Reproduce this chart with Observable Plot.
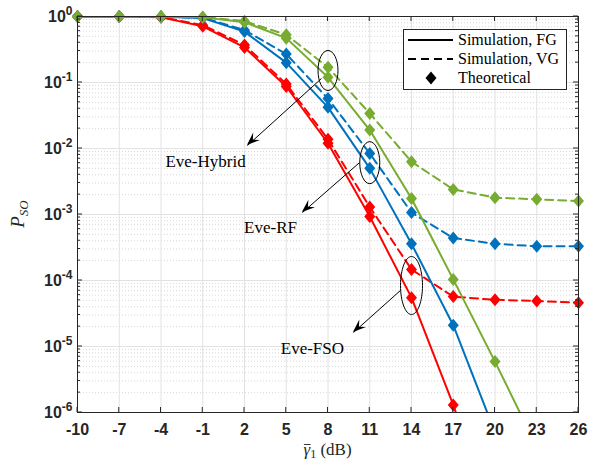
<!DOCTYPE html>
<html><head><meta charset="utf-8">
<script src="https://cdn.jsdelivr.net/npm/d3@7"></script>
<script src="https://cdn.jsdelivr.net/npm/@observablehq/plot@0.6"></script>
<style>body{margin:0;background:#fff}</style>
</head><body><div id="chart"></div>
<script>
// ---- data ----
const snr = [-10, -7, -4, -1, 2, 5, 8, 11, 14, 17, 20, 23, 26];
const xTicks = [-10, -7, -4, -1, 2, 5, 8, 11, 14, 17, 20, 23, 26];
const yTicks = [1e-6, 1e-5, 1e-4, 1e-3, 1e-2, 1e-1, 1];

const fsoFG    = [1.0, 1.0, 0.97, 0.71, 0.34, 0.087, 0.012, 9.3e-4, 5.5e-5, 1.3e-6, 2e-8, null, null];
const fsoVG    = [1.0, 1.0, 0.98, 0.74, 0.37, 0.095, 0.0138, 1.3e-3, 1.47e-4, 5.7e-5, 5.1e-5, 4.9e-5, 4.6e-5];
const rfFG     = [1.0, 1.0, 0.99, 0.95, 0.59, 0.20, 0.042, 5.0e-3, 3.6e-4, 2.1e-5, 5e-7, null, null];
const rfVG     = [1.0, 1.0, 0.99, 0.96, 0.62, 0.27, 0.057, 8.4e-3, 1.07e-3, 4.4e-4, 3.6e-4, 3.3e-4, 3.3e-4];
const hybridFG = [1.0, 1.0, 1.0, 0.97, 0.82, 0.47, 0.12, 0.019, 1.75e-3, 1.04e-4, 5.9e-6, 3e-7, null];
const hybridVG = [1.0, 1.0, 1.0, 0.98, 0.85, 0.53, 0.17, 0.034, 6.3e-3, 2.4e-3, 1.8e-3, 1.7e-3, 1.6e-3];

const eveNames  = ["Eve-FSO", "Eve-RF", "Eve-Hybrid"];
const eveColors = ["#FF0000", "#0072BD", "#77AC30"];
const eveFG = [fsoFG, rfFG, hybridFG];
const eveVG = [fsoVG, rfVG, hybridVG];

// annotations (data coordinates)
const annotText = ["Eve-Hybrid", "Eve-RF", "Eve-FSO"];
const annotX = [-0.8, 3.87, 6.88];
const annotY = [6.35e-3, 6.35e-4, 9.3e-6];
const ringX = [8, 11, 14];
const ringY = [0.152, 6.1e-3, 8.4e-5];
const arrowX1 = [7.53, 10.26, 13.2];
const arrowY1 = [0.115, 6.1e-3, 7.05e-5];
const arrowX2 = [2.21, 6.16, 9.83];
const arrowY2 = [0.0111, 1.07e-3, 1.63e-5];

// ---- build tables ----
function rowsOf(arr, k) {
  const out = [];
  arr.forEach((v, i) => { if (v != null) out.push({x: snr[i], y: v, color: eveColors[k]}); });
  return out;
}
const diamond = {draw(ctx) { ctx.moveTo(0, -6.5); ctx.lineTo(5.5, 0); ctx.lineTo(0, 6.5); ctx.lineTo(-5.5, 0); ctx.closePath(); }};
function ellipseSymbol(rx, ry) {
  const k = 0.5523;
  return {draw(ctx) {
    ctx.moveTo(rx, 0);
    ctx.bezierCurveTo(rx, ry * k, rx * k, ry, 0, ry);
    ctx.bezierCurveTo(-rx * k, ry, -rx, ry * k, -rx, 0);
    ctx.bezierCurveTo(-rx, -ry * k, -rx * k, -ry, 0, -ry);
    ctx.bezierCurveTo(rx * k, -ry, rx, -ry * k, rx, 0);
    ctx.closePath();
  }};
}
const ringSizes = [[10, 20], [10, 21], [11, 29]];

const minorY = [];
for (let e = -6; e < 0; e++) for (let m = 2; m <= 9; m++) minorY.push(m * Math.pow(10, e));

const marks = [
  Plot.ruleY(minorY, {stroke: "#cdcdcd", strokeDasharray: "1,2", strokeWidth: 0.8}),
  Plot.ruleX(xTicks, {stroke: "#e2e2e2", strokeWidth: 1}),
  Plot.ruleY(yTicks, {stroke: "#e2e2e2", strokeWidth: 1}),
];
for (let k = 0; k < 3; k++) {
  const fg = rowsOf(eveFG[k], k), vg = rowsOf(eveVG[k], k);
  marks.push(Plot.line(fg, {x: "x", y: "y", stroke: "color", strokeWidth: 2, clip: true}));
  marks.push(Plot.line(vg, {x: "x", y: "y", stroke: "color", strokeWidth: 2, strokeDasharray: "8,5", clip: true}));
  const pts = fg.concat(vg).filter(d => d.y >= 1e-6);
  marks.push(Plot.dot(pts, {x: "x", y: "y", fill: "color", stroke: "none", symbol: diamond}));
}
ringX.forEach((x, i) => {
  marks.push(Plot.dot([{x, y: ringY[i]}], {x: "x", y: "y", symbol: ellipseSymbol(...ringSizes[i]), fill: "none", stroke: "black", strokeWidth: 1}));
});
const arrows = arrowX1.map((x1, i) => ({x1, y1: arrowY1[i], x2: arrowX2[i], y2: arrowY2[i]}));
marks.push(Plot.link(arrows, {x1: "x1", y1: "y1", x2: "x2", y2: "y2", stroke: "black", strokeWidth: 1}));
const annots = annotText.map((t, i) => ({t, x: annotX[i], y: annotY[i]}));
marks.push(Plot.text(annots, {x: "x", y: "y", text: "t", fontFamily: "Liberation Serif, Times New Roman, serif", fontSize: 17, fontWeight: "normal", fill: "black", ariaLabel: "annotation"}));
marks.push(Plot.frame({stroke: "#262626", strokeWidth: 1}));

const plot = Plot.plot({
  width: 597, height: 465,
  marginLeft: 77, marginRight: 19, marginTop: 16, marginBottom: 53,
  style: {fontFamily: "Liberation Sans, Arial, sans-serif", fontSize: "16px", fontWeight: "bold", color: "#262626", background: "white", overflow: "visible"},
  x: {domain: [-10, 26], ticks: xTicks, tickFormat: d => String(d), tickSize: 0, tickPadding: 11, label: null},
  y: {type: "log", domain: [1e-6, 1], ticks: yTicks, tickFormat: d => "10^" + Math.round(Math.log10(d)), tickSize: 0, tickPadding: 5, label: null},
  color: {type: "identity"},
  marks
});
document.getElementById("chart").append(plot);

// ---- post-processing: superscripts, inward ticks, labels, legend, arrowheads ----
const svgEl = plot.tagName.toLowerCase() === "svg" ? plot : plot.querySelector("svg");
const root = d3.select(svgEl);
const sx = plot.scale("x"), sy = plot.scale("y");
const X = d3.scaleLinear(sx.domain, sx.range);
const Y = d3.scaleLog(sy.domain, sy.range);
const pLeft = Math.min(...sx.range), pRight = Math.max(...sx.range);
const pTop = Math.min(...sy.range), pBottom = Math.max(...sy.range);

root.selectAll("text").each(function () {
  const m = /^10\^(.+)$/.exec(this.textContent);
  if (m) {
    this.textContent = "10";
    const ts = document.createElementNS("http://www.w3.org/2000/svg", "tspan");
    ts.setAttribute("dy", "-7"); ts.setAttribute("font-size", "12"); ts.textContent = m[1];
    this.appendChild(ts);
  }
});

// white boxes behind annotations
root.selectAll('[aria-label="annotation"] text').each(function () {
  const b = this.getBBox();
  const r = document.createElementNS("http://www.w3.org/2000/svg", "rect");
  r.setAttribute("x", b.x - 8); r.setAttribute("y", b.y - 4);
  r.setAttribute("width", b.width + 16); r.setAttribute("height", b.height + 8);
  r.setAttribute("fill", "white");
  this.parentNode.insertBefore(r, this);
});

// inward ticks
const tk = root.append("g").attr("stroke", "#262626").attr("stroke-width", 1);
xTicks.forEach(v => {
  const x = X(v);
  tk.append("line").attr("x1", x).attr("x2", x).attr("y1", pBottom).attr("y2", pBottom - 5);
  tk.append("line").attr("x1", x).attr("x2", x).attr("y1", pTop).attr("y2", pTop + 5);
});
yTicks.forEach(v => {
  const y = Y(v);
  tk.append("line").attr("x1", pLeft).attr("x2", pLeft + 5).attr("y1", y).attr("y2", y);
  tk.append("line").attr("x1", pRight).attr("x2", pRight - 5).attr("y1", y).attr("y2", y);
});
minorY.forEach(v => {
  const y = Y(v);
  tk.append("line").attr("x1", pLeft).attr("x2", pLeft + 3).attr("y1", y).attr("y2", y);
  tk.append("line").attr("x1", pRight).attr("x2", pRight - 3).attr("y1", y).attr("y2", y);
});

// arrowheads (filled, concave back)
const ah = root.append("g").attr("fill", "black");
arrows.forEach(a => {
  const x1 = X(a.x1), y1 = Y(a.y1), x2 = X(a.x2), y2 = Y(a.y2);
  const ang = Math.atan2(y2 - y1, x2 - x1);
  const len = 13, half = 5, notch = 8;
  const ux = Math.cos(ang), uy = Math.sin(ang), px = -uy, py = ux;
  const bx = x2 - ux * len, by = y2 - uy * len;
  const nx = x2 - ux * notch, ny = y2 - uy * notch;
  ah.append("path").attr("d", `M${x2},${y2}L${bx + px * half},${by + py * half}L${nx},${ny}L${bx - px * half},${by - py * half}Z`);
});

// axis labels
const serif = "Liberation Serif, Times New Roman, serif";
const cx = (pLeft + pRight) / 2;
const xl = root.append("text").attr("x", cx).attr("y", 455).attr("text-anchor", "middle")
  .attr("font-family", serif).attr("font-size", 17).attr("font-weight", "normal").attr("fill", "#262626");
const g1 = xl.append("tspan").attr("font-style", "italic").text("γ");
xl.append("tspan").attr("font-size", 12).attr("dy", 3).text("1");
xl.append("tspan").attr("dy", -3).text(" (dB)");
try {
  const ext = g1.node().getExtentOfChar(0);
  root.append("line").attr("x1", ext.x + 0.5).attr("x2", ext.x + ext.width + 0.5)
    .attr("y1", 444.5).attr("y2", 444.5).attr("stroke", "#262626").attr("stroke-width", 0.9);
} catch (e) {}
const yl = root.append("text").attr("transform", `translate(24,${(pTop + pBottom) / 2}) rotate(-90)`)
  .attr("text-anchor", "middle").attr("font-family", serif).attr("font-size", 19)
  .attr("font-weight", "normal").attr("font-style", "italic").attr("fill", "#262626");
yl.append("tspan").text("P");
yl.append("tspan").attr("font-size", 13).attr("dy", 4).text("SO");

// legend
const lg = root.append("g");
lg.append("rect").attr("x", 403.5).attr("y", 29.5).attr("width", 163).attr("height", 60)
  .attr("fill", "white").attr("stroke", "#262626").attr("stroke-width", 1);
const legendRows = [["Simulation, FG", "solid"], ["Simulation, VG", "dashed"], ["Theoretical", "marker"]];
legendRows.forEach(([label, kind], i) => {
  const y = 40 + i * 19;
  if (kind === "solid") lg.append("line").attr("x1", 408).attr("x2", 453).attr("y1", y).attr("y2", y).attr("stroke", "black").attr("stroke-width", 2);
  if (kind === "dashed") lg.append("line").attr("x1", 408).attr("x2", 453).attr("y1", y).attr("y2", y).attr("stroke", "black").attr("stroke-width", 2).attr("stroke-dasharray", "8,5");
  if (kind === "marker") lg.append("path").attr("d", `M431,${y - 6.5}L436.5,${y}L431,${y + 6.5}L425.5,${y}Z`).attr("fill", "black");
  lg.append("text").attr("x", 458).attr("y", y + 5).attr("text-anchor", "start").attr("font-family", serif).attr("font-size", 16)
    .attr("font-weight", "normal").attr("fill", "black").text(label);
});
</script>
</body></html>
